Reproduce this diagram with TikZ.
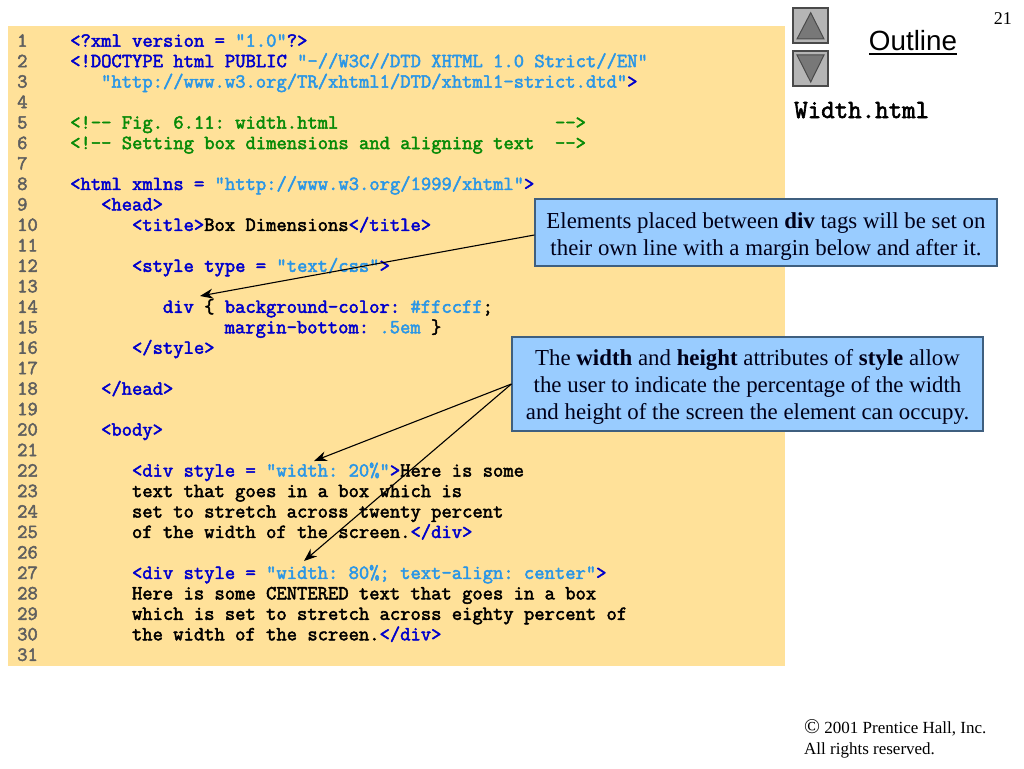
\documentclass[tikz,border=0pt]{standalone}
\usepackage{fontspec}
\setmainfont{Liberation Serif}
\newfontfamily\headfont{Liberation Sans}
\newfontfamily\codefont[FakeBold=2.4]{Latin Modern Mono}
\usetikzlibrary{arrows.meta}
\definecolor{pagebg}{HTML}{FFE199}
\definecolor{tagblue}{HTML}{0000CC}
\definecolor{strblue}{HTML}{2A96E6}
\definecolor{cmtgreen}{HTML}{078A07}
\definecolor{numgray}{HTML}{5F5F5F}
\definecolor{notefill}{HTML}{99CCFF}
\definecolor{noteline}{HTML}{3F5F7F}
\definecolor{btnfill}{HTML}{B5B5B5}
\definecolor{btnline}{HTML}{4A4A4A}
\definecolor{btntri}{HTML}{787878}
\newcommand{\T}[1]{\textcolor{tagblue}{#1}}
\newcommand{\Q}[1]{\textcolor{strblue}{#1}}
\newcommand{\C}[1]{\textcolor{cmtgreen}{#1}}
\newcommand{\topgap}[1]{\rule{0pt}{#1pt}}
\newcommand{\codeline}[3]{%
  \node[codenum] (n#1) at (17,{46.7+20.47*(#1-1)}) {#1};
  \node[codetxt] (c#1) at ({70+10.3*#2},{46.7+20.47*(#1-1)}) {#3};}
\newcommand{\numline}[1]{%
  \node[codenum] (n#1) at (17,{46.7+20.47*(#1-1)}) {#1};}
\tikzset{
  codetxt/.style={anchor=base west,inner sep=0pt,font=\codefont\fontsize{20.03}{20}\selectfont\frenchspacing},
  codenum/.style={codetxt,text=numgray},
  notebox/.style={draw=noteline,line width=1.2pt,fill=notefill,inner sep=0pt,align=center,
    text=black!90!blue,font=\fontsize{22.85}{27.3}\selectfont},
  pointer/.style={draw=black,line width=1.1pt,-{Stealth[length=13pt,width=10pt]}},
  btnbox/.style={draw=btnline,line width=1.2pt,fill=btnfill},
  btnarrow/.style={draw=btnline,line width=1pt,fill=btntri,line join=miter},
  plain/.style={inner sep=0pt,anchor=base west}
}
\begin{document}
\begin{tikzpicture}[x=1pt,y=-1pt]
\useasboundingbox (0,0) rectangle (1024,768);
\fill[pagebg] (8,26) rectangle (785,666);

\codeline{1}{0}{\T{<?xml version =} \Q{"1.0"}\T{?>}}
\codeline{2}{0}{\T{<!DOCTYPE html PUBLIC} \Q{"-//W3C//DTD XHTML 1.0 Strict//EN"}}
\codeline{3}{3}{\Q{"http://www.w3.org/TR/xhtml1/DTD/xhtml1-strict.dtd"}\T{>}}
\numline{4}
\codeline{5}{0}{\C{<!-{}- Fig. 6.11: width.html~~~~~~~~~~~~~~~~~~~~~-{}->}}
\codeline{6}{0}{\C{<!-{}- Setting box dimensions and aligning text~~-{}->}}
\numline{7}
\codeline{8}{0}{\T{<html xmlns =} \Q{"http://www.w3.org/1999/xhtml"}\T{>}}
\codeline{9}{3}{\T{<head>}}
\codeline{10}{6}{\T{<title>}Box Dimensions\T{</title>}}
\numline{11}
\codeline{12}{6}{\T{<style type =} \Q{"text/css"}\T{>}}
\numline{13}
\codeline{14}{9}{\T{div} \{ \T{background-color:} \Q{\#ffccff};}
\codeline{15}{15}{\T{margin-bottom:} \Q{.5em} \}}
\codeline{16}{6}{\T{</style>}}
\numline{17}
\codeline{18}{3}{\T{</head>}}
\numline{19}
\codeline{20}{3}{\T{<body>}}
\numline{21}
\codeline{22}{6}{\T{<div style =} \Q{"width: 20\%"}\T{>}Here is some}
\codeline{23}{6}{text that goes in a box which is}
\codeline{24}{6}{set to stretch across twenty percent}
\codeline{25}{6}{of the width of the screen.\T{</div>}}
\numline{26}
\codeline{27}{6}{\T{<div style =} \Q{"width: 80\%; text-align: center"}\T{>}}
\codeline{28}{6}{Here is some CENTERED text that goes in a box}
\codeline{29}{6}{which is set to stretch across eighty percent of}
\codeline{30}{6}{the width of the screen.\T{</div>}}
\numline{31}

% pointer targets
\coordinate (t1) at (200,296);
\coordinate (t2) at (314,461);
\coordinate (t3) at (304,561);

\node[notebox,minimum width=462pt,minimum height=67pt] (b1) at (766,232.5)
  {\topgap{24}Elements placed between \textbf{div} tags will be set on\\their own line with a margin below and after it.};
\node[notebox,minimum width=471pt,minimum height=94pt] (b2) at (747.5,384)
  {\topgap{22}The \textbf{width} and \textbf{height} attributes of \textbf{style} allow\\the user to indicate the percentage of the width\\and height of the screen the element can occupy.};

\draw[pointer] ([yshift=-2.5pt]b1.west) -- (t1);
\draw[pointer] (b2.west) -- (t2);
\draw[pointer] (b2.west) -- (t3);

% navigation buttons
\node[btnbox,minimum width=35pt,minimum height=35pt,inner sep=0pt] (up) at (810.5,25.5) {};
\node[btnbox,minimum width=35pt,minimum height=35pt,inner sep=0pt] (down) at (810.5,68.5) {};
\path[btnarrow] (810.7,12.7) -- (824,39) -- (797,39) -- cycle;
\path[btnarrow] (810.7,82) -- (824,55) -- (797,55) -- cycle;

\node[inner sep=0pt,anchor=base,font=\headfont\fontsize{27.8}{30}\selectfont] (outl) at (913,50) {Outline};
\draw[line width=1.8pt] (869,53.7) -- (957,53.7);
\node[inner sep=0pt,anchor=base east,font=\fontsize{18}{20}\selectfont] (pg) at (1012,25) {21};
\node[plain,font=\codefont\fontsize{26.2}{24}\selectfont] (fn) at (794,118) {Width.html};
\node[plain,font=\fontsize{17}{20}\selectfont] (cr1) at (804,733) {{\fontsize{21}{20}\selectfont\char"00A9} 2001 Prentice Hall, Inc.};
\node[plain,font=\fontsize{17}{20}\selectfont] (cr2) at (804,754) {All rights reserved.};
\end{tikzpicture}
\end{document}
